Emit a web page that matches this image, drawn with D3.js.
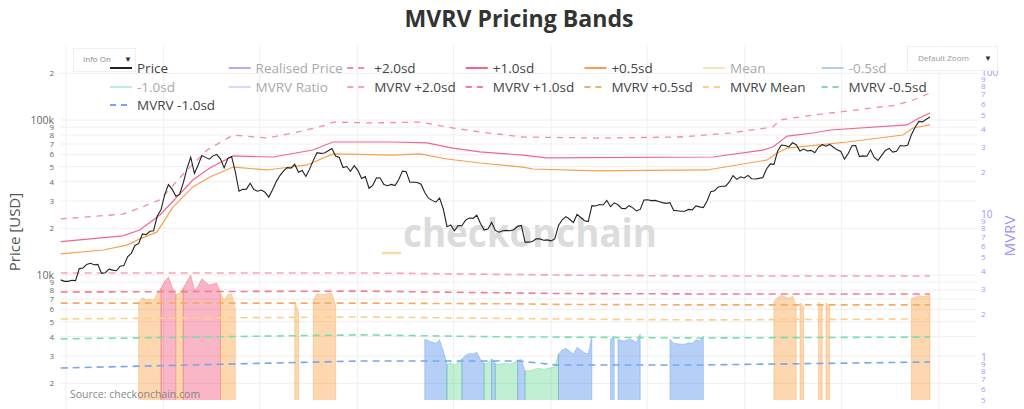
<!DOCTYPE html>
<html><head><meta charset="utf-8">
<script src="https://cdn.jsdelivr.net/npm/d3@7"></script>
<style>body{margin:0;background:#fff}svg{display:block}</style>
</head><body>
<svg id="chart" width="1024" height="409"></svg>
<script>
// ---------- DATA ----------
const weekStart = "2020-06-21"; // weekly observations
const price2020 = [9300,9100,9100,9250,9200,11000,11100,11700,11900,11650,11700,10250,10350,10900,10750,10650,11400,11500,13100,13800,15500,16000,18400,18200,19150,19300,24000,26300];
const price2021 = [33000,38300,35800,32200,33100,39300,48700,57500,45200,51200,59000,57400,55900,58700,60000,56200,49100,56600,58200,46400,34700,35700,35800,39100,35600,34700,35300,34200,31800,35400,39900,43800,47000,49300,48900,51800,46000,47200,43200,48200,54900,61500,60900,61300,63300,65500,58600,57300,49400,50100,46700,50800];
const price2022 = [47300,41900,43100,36300,37900,42400,42200,38400,37700,38400,37800,41300,46800,46400,39700,39700,39500,38500,34100,31300,30300,29500,31400,26600,20500,21000,19300,20850,20800,22600,23300,23200,24300,21500,19500,19800,21800,19400,18900,19300,19400,19300,19600,20600,20900,16300,16300,16450,17100,17100,16750,16840];
const price2023 = [16600,17100,20900,22700,23800,22900,21800,24600,23500,22400,22100,28000,27900,28500,28300,30300,27600,29200,28400,26900,26800,28000,27100,25900,26500,30500,30600,30200,30300,29800,29300,29000,29300,26100,26000,25800,25800,26500,26300,27900,27500,27200,30000,34500,35000,37000,37400,37400,39900,43800,41400,43000,42300];
const price2024 = [43900,41800,41600,42000,42600,48300,52100,51700,63100,68900,68400,67200,71300,69300,63000,64900,63100,63700,61500,66900,69300,67800,69600,66700,64200,62700,55900,60800,68200,68300,58100,58700,58400,64200,57300,54800,59100,63600,65600,62100,62900,68400,67900,68800,80400,89900,97900,97200,101200,104400];

const mvrv2020 = [1.45,1.42,1.42,1.44,1.43,1.70,1.70,1.78,1.80,1.75,1.75,1.53,1.54,1.62,1.59,1.57,1.67,1.68,1.90,1.98,2.20,2.42,2.60,2.52,2.55,2.50,2.80,3.05];
const mvrv2021 = [3.40,3.65,3.10,2.75,2.80,3.05,3.40,3.75,2.95,3.15,3.55,3.35,3.20,3.25,3.30,2.80,2.50,2.75,2.78,2.20,1.70,1.72,1.70,1.85,1.68,1.63,1.65,1.60,1.48,1.65,1.85,2.02,2.15,2.25,2.22,2.45,2.08,2.12,1.95,2.30,2.50,2.78,2.75,2.74,2.80,2.80,2.30,2.25,1.95,1.98,1.85,2.00];
const mvrv2022 = [1.88,1.68,1.72,1.46,1.52,1.70,1.68,1.53,1.50,1.53,1.50,1.64,1.85,1.83,1.57,1.57,1.56,1.52,1.33,1.30,1.27,1.25,1.32,1.10,0.89,0.91,0.88,0.92,0.97,1.03,1.06,1.05,1.08,0.96,0.90,0.90,0.97,0.90,0.89,0.90,0.90,0.89,0.91,0.95,0.96,0.80,0.80,0.81,0.83,0.83,0.82,0.83];
const mvrv2023 = [0.84,0.86,1.05,1.12,1.15,1.10,1.05,1.17,1.12,1.07,1.05,1.40,1.41,1.42,1.41,1.47,1.33,1.40,1.33,1.30,1.30,1.34,1.31,1.26,1.45,1.49,1.50,1.48,1.48,1.46,1.44,1.43,1.33,1.25,1.24,1.23,1.23,1.26,1.25,1.32,1.30,1.40,1.48,1.66,1.68,1.76,1.77,1.76,1.86,2.02,1.90,1.96,1.92];
const mvrv2024 = [1.95,1.85,1.82,1.84,1.85,2.08,2.24,2.45,2.62,2.70,2.65,2.58,2.68,2.26,2.40,2.25,2.22,2.22,2.15,2.42,2.28,2.40,2.28,2.20,2.12,2.05,1.88,2.05,2.22,2.20,1.94,1.95,1.93,2.12,1.89,1.80,1.94,2.08,2.14,2.02,2.04,2.20,2.18,2.25,2.55,2.62,2.70,2.65,2.68,2.70];

// Price pricing bands (date, USD)
const bandPlus2 = [["2020-06-21",23000],["2020-10-16",24700],["2020-11-17",27100],["2020-12-25",30500],["2021-02-14",47600],["2021-03-24",64000],["2021-05-12",80000],["2021-07-15",76500],["2021-09-02",82400],["2021-11-05",92900],["2021-11-16",97000],["2022-01-30",95700],["2022-04-29",97000],["2022-06-30",88800],["2022-08-20",83700],["2022-11-09",77700],["2023-03-29",76500],["2023-09-01",77700],["2023-12-04",82400],["2024-02-23",90100],["2024-03-07",100000],["2024-05-09",107700],["2024-06-28",112700],["2024-10-14",125000],["2024-11-13",134600],["2024-12-15",149000]];
const bandPlus1 = [["2020-06-21",16400],["2020-10-16",17900],["2020-11-17",19500],["2020-12-25",24400],["2021-02-25",41000],["2021-03-29",49000],["2021-05-12",58600],["2021-07-26",57700],["2021-10-09",64000],["2021-11-16",72100],["2022-03-09",72100],["2022-05-12",71100],["2022-06-30",65900],["2022-08-20",62200],["2022-11-09",59400],["2022-12-24",56900],["2023-11-02",57700],["2024-02-04",64000],["2024-02-23",67000],["2024-03-21",78800],["2024-05-09",82400],["2024-06-10",86200],["2024-11-02",92900],["2024-11-21",101500],["2024-12-15",111000]];
const bandPlus05 = [["2020-06-21",13700],["2020-09-09",14500],["2020-10-24",15600],["2020-11-17",17100],["2020-12-19",18900],["2021-01-19",27500],["2021-02-25",37000],["2021-03-29",42900],["2021-05-12",49700],["2021-07-15",47600],["2021-09-28",51300],["2021-11-16",60400],["2022-03-09",59400],["2022-04-29",60400],["2022-06-19",56000],["2022-08-20",52800],["2022-11-09",49700],["2022-11-28",48300],["2023-03-29",46900],["2023-10-22",47600],["2024-02-12",55200],["2024-03-02",61200],["2024-03-21",65900],["2024-07-12",72100],["2024-10-25",80000],["2024-11-13",88800],["2024-12-15",92900]];

// MVRV ratio bands
const mvrvBandDates = ["2020-06-21","2022-01-06","2022-11-03","2023-01-10","2023-10-09","2024-12-15"];
const mvrvPlus2  = [3.89,3.89,3.79,3.76,3.70,3.70];
const mvrvPlus1  = [2.86,2.90,2.81,2.79,2.77,2.77];
const mvrvPlus05 = [2.39,2.39,2.36,2.34,2.32,2.32];
const mvrvMean   = [1.85,1.91,1.86,1.85,1.82,1.85];
const mvrvMinus05= [1.34,1.43,1.38,1.38,1.36,1.38];
const mvrvMinus1 = [0.837,0.937,0.937,0.879,0.879,0.922];

const priceTicks = [2000,3000,4000,5000,6000,7000,8000,9000,10000,20000,30000,40000,50000,60000,70000,80000,90000,100000,200000];
const mvrvTicks = [0.5,0.6,0.7,0.8,0.9,1,2,3,4,5,6,7,8,9,10,20,30,40,50,60,70,80,90,100];
const gridDates = ["2020-07-01","2021-01-01","2021-07-01","2022-01-01","2022-07-01","2023-01-01","2023-07-01","2024-01-01","2024-07-01","2025-01-01"];

const legendItems = [
  {name:"Price", color:"#222", dash:null, on:true},
  {name:"Realised Price", color:"#b6abff", dash:null, on:false},
  {name:"+2.0sd", color:"#f58ca5", dash:"6,6", on:true},
  {name:"+1.0sd", color:"#f3668a", dash:null, on:true},
  {name:"+0.5sd", color:"#f6a04d", dash:null, on:true},
  {name:"Mean", color:"#fde2b8", dash:null, on:false},
  {name:"-0.5sd", color:"#b4cff7", dash:null, on:false},
  {name:"-1.0sd", color:"#bdeed6", dash:null, on:false},
  {name:"MVRV Ratio", color:"#ddd6ff", dash:null, on:false},
  {name:"MVRV +2.0sd", color:"#f7a2b6", dash:"6,6", on:true},
  {name:"MVRV +1.0sd", color:"#f27b97", dash:"6,6", on:true},
  {name:"MVRV +0.5sd", color:"#f5ad66", dash:"6,6", on:true},
  {name:"MVRV Mean", color:"#fbd08b", dash:"6,6", on:true},
  {name:"MVRV -0.5sd", color:"#78dfac", dash:"6,6", on:true},
  {name:"MVRV -1.0sd", color:"#76a6f0", dash:"6,6", on:true}
];

// ---------- CHART ----------
const svg = d3.select("#chart");
const W = 1024, H = 409;
const L = 60, R = 977, T = 65, B = 400;
const parse = d3.utcParse("%Y-%m-%d");
const t0 = parse(weekStart);

const price = [...price2020, ...price2021, ...price2022, ...price2023, ...price2024];
const mvrv = [...mvrv2020, ...mvrv2021, ...mvrv2022, ...mvrv2023, ...mvrv2024];
const dates = price.map((_, i) => d3.utcDay.offset(t0, 7 * i));

const x = d3.scaleUtc().domain([parse("2020-07-01"), parse("2025-01-01")]).range([66, 939]);
const yL = d3.scaleLog().domain([10000, 100000]).range([275, 120]);
const yR = d3.scaleLog().domain([1, 10]).range([357, 214.5]);

const defs = svg.append("defs");
defs.append("clipPath").attr("id", "plotclip").append("rect")
  .attr("x", L).attr("y", T).attr("width", R - L).attr("height", B - T);

svg.append("rect").attr("width", W).attr("height", H).attr("fill", "#fff");

// gridlines
const grid = svg.append("g");
grid.selectAll(".hg").data(priceTicks).join("line")
  .attr("x1", L).attr("x2", R).attr("y1", d => yL(d)).attr("y2", d => yL(d))
  .attr("stroke", "#efefef").attr("stroke-width", 1);
grid.selectAll(".vg").data(gridDates).join("line")
  .attr("x1", d => x(parse(d))).attr("x2", d => x(parse(d)))
  .attr("y1", 45).attr("y2", H)
  .attr("stroke", "#efefef").attr("stroke-width", 1);

// watermark
svg.append("text").attr("x", 530).attr("y", 247).attr("text-anchor", "middle")
  .attr("font-family", "Open Sans, sans-serif").attr("font-weight", 700).attr("font-size", 40)
  .attr("textLength", 254).attr("lengthAdjust", "spacingAndGlyphs")
  .attr("fill", "#dcdcdc").text("checkonchain");

const plot = svg.append("g").attr("clip-path", "url(#plotclip)");

// MVRV zone fills
const bd = mvrvBandDates.map(parse);
const band = arr => d3.scaleUtc().domain(bd).range(arr).clamp(true);
const bP1 = band(mvrvPlus1), bP05 = band(mvrvPlus05), bM05 = band(mvrvMinus05), bM1 = band(mvrvMinus1);
const zoneOf = i => {
  const d = dates[i], v = mvrv[i];
  if (v > bP1(d)) return "pink";
  if (v > bP05(d)) return "orange";
  if (v < bM1(d)) return "green";
  if (v < bM05(d)) return "blue";
  return null;
};
const zoneFill = {pink: "rgba(240,80,120,0.42)", orange: "rgba(250,155,55,0.40)", blue: "rgba(60,130,235,0.38)", green: "rgba(60,205,120,0.32)"};
const zoneStroke = {pink: "rgba(240,80,120,0.35)", orange: "rgba(250,155,55,0.35)", blue: "rgba(60,130,235,0.3)", green: "rgba(60,205,120,0.3)"};
const zones = mvrv.map((_, i) => zoneOf(i));
const runs = [];
let s = 0;
for (let i = 1; i <= zones.length; i++) {
  if (i === zones.length || zones[i] !== zones[s]) {
    if (zones[s]) runs.push({zone: zones[s], idx: d3.range(s, Math.min(i + 1, zones.length))});
    s = i;
  }
}
const area = d3.area().x(i => x(dates[i])).y0(yR(0.5) + 5).y1(i => yR(mvrv[i]));
plot.selectAll(".zone").data(runs).join("path")
  .attr("d", r => area(r.idx))
  .attr("fill", r => zoneFill[r.zone])
  .attr("stroke", r => zoneStroke[r.zone]).attr("stroke-width", 1);

// MVRV band lines
const mvrvLines = [
  [mvrvPlus2, "#f7a2b6"], [mvrvPlus1, "#f27b97"], [mvrvPlus05, "#f5ad66"],
  [mvrvMean, "#fbd08b"], [mvrvMinus05, "#78dfac"], [mvrvMinus1, "#76a6f0"]
];
const mline = d3.line().x(d => x(d[0])).y(d => yR(d[1]));
mvrvLines.forEach(([arr, col]) => {
  const pts = arr.map((v, i) => [bd[i], v]);
  pts[0][0] = dates[0];
  plot.append("path").attr("d", mline(pts)).attr("fill", "none")
    .attr("stroke", col).attr("stroke-width", 1.6).attr("stroke-dasharray", "7,5");
});

// Price bands
const pline = d3.line().x(d => x(parse(d[0]))).y(d => yL(d[1]));
plot.append("path").attr("d", pline(bandPlus05)).attr("fill", "none").attr("stroke", "#f6a04d").attr("stroke-width", 1.2);
plot.append("path").attr("d", pline(bandPlus1)).attr("fill", "none").attr("stroke", "#f3668a").attr("stroke-width", 1.2);
plot.append("path").attr("d", pline(bandPlus2)).attr("fill", "none").attr("stroke", "#f58ca5").attr("stroke-width", 1.3).attr("stroke-dasharray", "6,6");

// Price line
const priceLine = d3.line().x((d, i) => x(dates[i])).y(d => yL(d));
plot.append("path").attr("d", priceLine(price)).attr("fill", "none").attr("stroke", "#222").attr("stroke-width", 1.1);

// stray small mark
svg.append("line").attr("x1", 382).attr("x2", 401).attr("y1", 253).attr("y2", 253)
  .attr("stroke", "#fcd9a8").attr("stroke-width", 2.5);

// Axes
const isMajL = d => d === 10000 || d === 100000;
const fmtL = d => d === 10000 ? "10k" : d === 100000 ? "100k" : String(d).charAt(0);
const axL = svg.append("g").attr("transform", `translate(${L},0)`)
  .call(d3.axisLeft(yL).tickValues(priceTicks).tickFormat(fmtL).tickSize(0).tickPadding(6));
axL.select(".domain").remove();
axL.selectAll("text").attr("fill", "#666").attr("font-family", "Open Sans, sans-serif")
  .attr("font-size", d => isMajL(d) ? 10.5 : 8);

const isMajR = d => d === 1 || d === 10 || d === 100;
const fmtR = d => isMajR(d) ? String(d) : String(d).replace("0.", "").charAt(0);
const axR = svg.append("g").attr("transform", `translate(${R},0)`)
  .call(d3.axisRight(yR).tickValues(mvrvTicks).tickFormat(fmtR).tickSize(0).tickPadding(4));
axR.select(".domain").remove();
axR.selectAll("text").attr("fill", "#a195ff").attr("font-family", "Open Sans, sans-serif")
  .attr("font-size", d => isMajR(d) ? 10 : 8);

svg.append("text").attr("transform", "translate(20,232) rotate(-90)").attr("text-anchor", "middle")
  .attr("font-family", "Open Sans, sans-serif").attr("font-size", 15).attr("fill", "#555").text("Price [USD]");
svg.append("text").attr("transform", "translate(1015,236) rotate(-90)").attr("text-anchor", "middle")
  .attr("font-family", "Open Sans, sans-serif").attr("font-size", 15).attr("fill", "#9d90ff").text("MVRV");

// Title
svg.append("text").attr("x", 519).attr("y", 27).attr("text-anchor", "middle")
  .attr("font-family", "Open Sans, sans-serif").attr("font-weight", 700).attr("font-size", 23)
  .attr("textLength", 229).attr("lengthAdjust", "spacingAndGlyphs")
  .attr("fill", "#333").text("MVRV Pricing Bands");

// Dropdown boxes
const dd = svg.append("g").attr("font-family", "Open Sans, sans-serif");
dd.append("rect").attr("x", 73.5).attr("y", 48.5).attr("width", 62).attr("height", 23).attr("fill", "#fff").attr("stroke", "#f0f0f0");
dd.append("text").attr("x", 83).attr("y", 62).attr("font-size", 8).attr("fill", "#888").text("Info On");
dd.append("text").attr("x", 124).attr("y", 62).attr("font-size", 8).attr("fill", "#333").text("▼");
dd.append("rect").attr("x", 907.5).attr("y", 46.5).attr("width", 90).attr("height", 24).attr("fill", "#fff").attr("stroke", "#f0f0f0");
dd.append("text").attr("x", 918).attr("y", 61).attr("font-size", 8).attr("fill", "#999").text("Default Zoom");
dd.append("text").attr("x", 984).attr("y", 61).attr("font-size", 8).attr("fill", "#333").text("▼");

// Legend
const lg = svg.append("g").attr("font-family", "Open Sans, sans-serif");
const colX = [110, 228.6, 347.2, 465.8, 584.4, 703, 821.6];
const rowY = [68, 87, 105];
legendItems.forEach((it, i) => {
  const cx = colX[i % 7], cy = rowY[Math.floor(i / 7)];
  lg.append("line").attr("x1", cx).attr("x2", cx + 22).attr("y1", cy).attr("y2", cy)
    .attr("stroke", it.color).attr("stroke-width", 2).attr("stroke-dasharray", it.dash ? "6,5" : null);
  lg.append("text").attr("x", cx + 27).attr("y", cy + 5).attr("font-size", 13.5)
    .attr("fill", it.on ? "#444" : "#aaa").text(it.name);
});

// Source
svg.append("text").attr("x", 70).attr("y", 398).attr("font-family", "Open Sans, sans-serif")
  .attr("font-size", 10.5).attr("fill", "#888").text("Source: checkonchain.com");
</script>
</body></html>
